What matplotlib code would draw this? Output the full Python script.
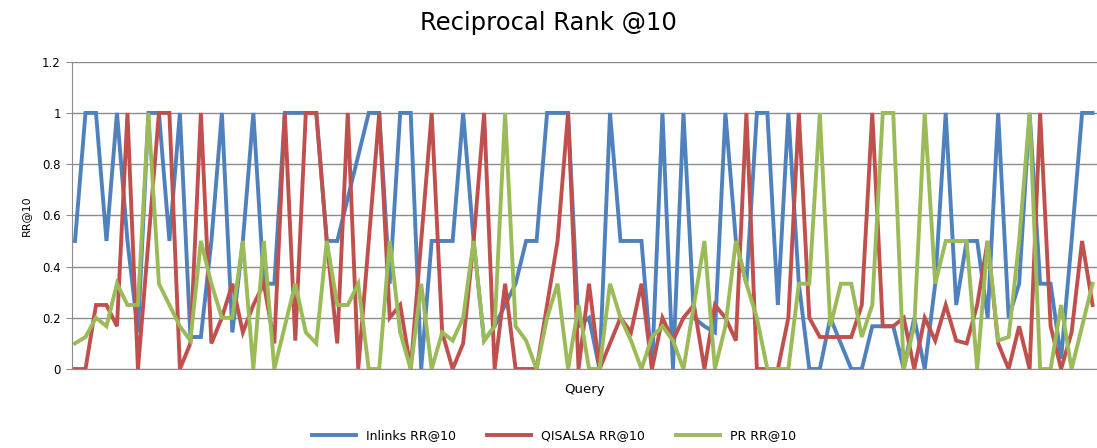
import matplotlib
matplotlib.use("Agg")
import matplotlib.pyplot as plt
import numpy as np

# reciprocal rank per query
inlinks = [0.5, 1, 1, 0.5, 1, 0.5, 0.143, 1, 1, 0.5,
           1, 0.125, 0.125, 0.5, 1, 0.143, 0.5, 1, 0.333, 0.333,
           1, 1, 1, 1, 0.5, 0.5, 0.667, 0.833, 1, 1,
           0.333, 1, 1, 0, 0.5, 0.5, 0.5, 1, 0.5, 0.111,
           0.167, 0.25, 0.333, 0.5, 0.5, 1, 1, 1, 0.167, 0.2,
           0, 1, 0.5, 0.5, 0.5, 0, 1, 0, 1, 0.2,
           0.167, 0.143, 1, 0.5, 0.333, 1, 1, 0.25, 1, 0.333,
           0, 0, 0.2, 0.1, 0, 0, 0.167, 0.167, 0.167, 0,
           0.2, 0, 0.333, 1, 0.25, 0.5, 0.5, 0.2, 1, 0.2,
           0.333, 1, 0.333, 0.333, 0.04, 0.5, 1, 1]
qisalsa = [0, 0, 0.25, 0.25, 0.167, 1, 0, 0.5, 1, 1,
           0, 0.1, 1, 0.1, 0.2, 0.333, 0.143, 0.25, 0.333, 0.1,
           1, 0.111, 1, 1, 0.5, 0.1, 1, 0, 0.5, 1,
           0.2, 0.25, 0, 0.5, 1, 0.143, 0, 0.1, 0.5, 1,
           0, 0.333, 0, 0, 0, 0.25, 0.5, 1, 0, 0.333,
           0, 0.1, 0.2, 0.143, 0.333, 0, 0.2, 0.111, 0.2, 0.25,
           0, 0.25, 0.2, 0.111, 1, 0, 0, 0, 0.2, 1,
           0.2, 0.125, 0.125, 0.125, 0.125, 0.25, 1, 0.167, 0.167, 0.2,
           0, 0.2, 0.111, 0.25, 0.111, 0.1, 0.25, 0.5, 0.1, 0,
           0.167, 0, 1, 0.167, 0, 0.143, 0.5, 0.25]
pr = [0.1, 0.125, 0.2, 0.167, 0.333, 0.25, 0.25, 1, 0.333, 0.25,
      0.167, 0.111, 0.5, 0.333, 0.2, 0.2, 0.5, 0, 0.5, 0,
      0.167, 0.333, 0.143, 0.1, 0.5, 0.25, 0.25, 0.333, 0, 0,
      0.5, 0.143, 0, 0.333, 0, 0.143, 0.111, 0.2, 0.5, 0.111,
      0.167, 1, 0.167, 0.111, 0, 0.2, 0.333, 0, 0.25, 0,
      0, 0.333, 0.2, 0.111, 0, 0.125, 0.167, 0.111, 0, 0.25,
      0.5, 0, 0.167, 0.5, 0.333, 0.2, 0, 0, 0, 0.333,
      0.333, 1, 0.167, 0.333, 0.333, 0.125, 0.25, 1, 1, 0,
      0.167, 1, 0.333, 0.5, 0.5, 0.5, 0, 0.5, 0.111, 0.125,
      0.5, 1, 0, 0, 0.25, 0, 0.167, 0.333]
names = ["Inlinks RR@10", "QISALSA RR@10", "PR RR@10"]
colors = ["#4F81BD", "#C0504D", "#9BBB59"]

fig = plt.figure(figsize=(10.97, 4.48), dpi=100)
ax = fig.add_axes([0.0656, 0.1763, 0.934, 0.686])

x = np.arange(len(inlinks))
for ys, name, c in zip([inlinks, qisalsa, pr], names, colors):
    ax.plot(x, ys, color=c, lw=2.8, label=name, solid_joinstyle="miter")

ax.set_xlim(-0.29, len(inlinks) - 1 + 0.38)
ax.set_ylim(0, 1.2)
ax.set_yticks([0, 0.2, 0.4, 0.6, 0.8, 1, 1.2])
ax.set_yticklabels(["0", "0.2", "0.4", "0.6", "0.8", "1", "1.2"], fontsize=8.5)
ax.set_xticks([])
ax.grid(axis="y", color="#8c8c8c", lw=1)
ax.set_axisbelow(True)
for s in ["top", "right"]:
    ax.spines[s].set_visible(False)
ax.spines["left"].set_color("#8c8c8c")
ax.spines["bottom"].set_color("#8c8c8c")
ax.tick_params(axis="y", length=4, color="#8c8c8c", pad=4)

ax.set_ylabel("RR@10", fontsize=8, labelpad=8)
ax.set_xlabel("Query", fontsize=9.5, labelpad=10)
fig.suptitle("Reciprocal Rank @10", fontsize=17.5, y=0.975)

fig.legend(loc="lower center", bbox_to_anchor=(0.505, -0.012), ncol=3,
           frameon=False, fontsize=9, handlelength=3.5, columnspacing=2.5)

fig.savefig("out.png", dpi=100)
